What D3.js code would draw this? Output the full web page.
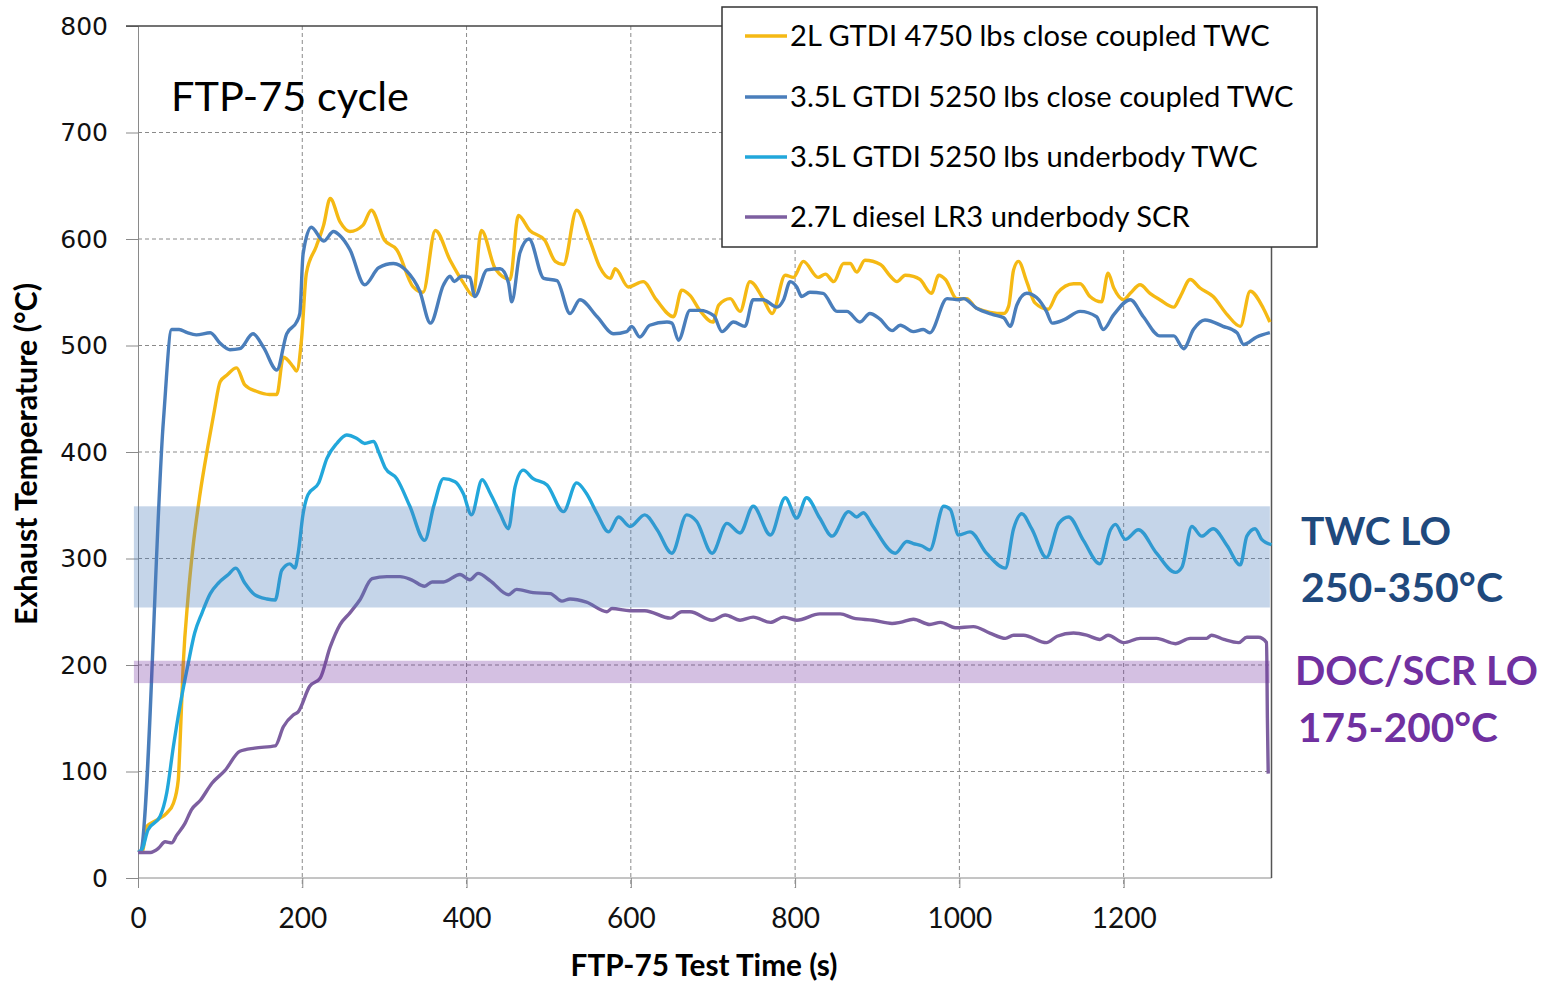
<!DOCTYPE html>
<html><head><meta charset="utf-8">
<script src="https://cdn.jsdelivr.net/npm/d3@7"></script>
<style>html,body{margin:0;padding:0;background:#fff;}svg{display:block;}</style>
</head><body>
<svg id="c" width="1555" height="984"></svg>
<script>
// ---------- DATA ----------
const seriesNames = [
  "2L GTDI 4750 lbs close coupled TWC",
  "3.5L GTDI 5250 lbs close coupled TWC",
  "3.5L GTDI 5250 lbs underbody TWC",
  "2.7L diesel LR3 underbody SCR"
];
const xTicks = [0,200,400,600,800,1000,1200];
const yTicks = [0,100,200,300,400,500,600,700,800];

const timeGold = [0,6,10,22,35,43,49,51,55,61,67,75,85,93,100,108,120,130,144,160,169,177,189,193,199,205,217,226,234,246,258,274,284,300,315,335,347,362,380,396,408,418,435,453,463,477,495,508,518,534,550,562,575,581,597,615,631,652,662,672,684,700,707,721,733,745,761,772,788,798,810,828,837,847,859,867,875,885,904,916,924,934,944,952,966,975,983,997,1009,1021,1054,1060,1066,1072,1082,1092,1108,1119,1139,1147,1159,1173,1181,1188,1200,1208,1220,1232,1244,1261,1269,1281,1293,1309,1326,1342,1354,1370,1378];
const tempGold = [24,26,48,54,61,70,92,123,200,264,311,358,405,439,466,472,479,463,457,454,454,489,480,476,505,568,593,613,638,616,607,613,627,599,590,555,550,608,580,559,547,608,572,562,622,608,599,579,576,627,599,574,563,572,555,560,543,527,552,547,533,522,538,544,532,560,544,530,566,564,579,564,567,560,577,577,569,580,576,565,560,566,565,562,549,566,562,544,544,535,530,537,571,579,560,540,534,549,558,558,546,541,568,554,543,549,557,549,543,536,546,562,554,546,529,518,551,535,522];

const timeCC = [0,3,31,41,50,60,71,88,100,112,124,140,153,169,181,193,197,201,211,226,238,246,258,276,293,311,327,343,356,372,380,385,394,404,410,425,441,451,455,465,476,494,510,526,538,559,579,595,601,611,623,644,650,658,672,684,701,711,725,739,749,761,778,786,794,802,808,818,834,851,863,879,891,903,918,928,944,956,964,985,999,1005,1021,1041,1054,1062,1070,1082,1094,1106,1113,1127,1147,1167,1175,1188,1208,1224,1244,1261,1273,1285,1299,1321,1338,1346,1362,1378];
const tempCC = [24,25,430,515,515,512,510,512,502,496,497,511,498,477,511,522,530,586,611,598,607,603,590,557,573,577,570,551,521,557,565,560,565,564,546,571,572,559,541,587,600,563,561,530,543,527,511,513,518,508,519,522,521,505,533,533,528,513,522,518,543,543,536,543,560,555,546,550,549,532,532,522,530,525,514,519,513,515,512,544,543,544,535,529,526,518,538,549,545,532,521,524,532,527,515,529,543,527,509,509,497,515,524,518,512,501,508,512];

const timeUB = [0,5,12,27,35,43,51,61,69,78,88,98,110,119,130,142,157,167,175,185,191,195,201,207,220,230,242,254,266,276,287,293,301,315,331,349,360,372,386,396,406,419,429,441,451,459,469,481,498,518,534,546,559,573,585,599,617,632,650,668,680,699,717,733,749,770,788,802,814,830,845,865,875,883,895,922,936,944,954,964,981,989,999,1013,1033,1056,1066,1076,1088,1106,1121,1133,1151,1171,1184,1190,1202,1218,1240,1263,1271,1283,1295,1309,1326,1342,1350,1360,1368,1380];
const tempUB = [24,27,45,58,80,123,161,201,230,249,267,277,285,291,277,266,262,261,289,295,291,305,342,360,371,394,408,416,413,408,410,400,385,375,349,317,349,375,372,361,341,374,361,342,328,367,383,375,369,344,371,361,342,325,339,330,341,327,305,341,335,305,333,324,349,322,357,338,357,338,321,344,339,343,330,305,316,314,312,308,349,346,322,325,305,291,328,342,328,301,333,339,317,295,327,332,318,327,305,287,292,330,321,328,312,294,321,328,318,313];

const timeDiesel = [0,15,25,33,41,47,57,65,76,90,106,124,142,167,177,189,195,209,222,234,246,258,270,285,303,319,333,349,358,372,392,404,414,429,451,461,481,502,516,526,546,571,577,599,617,648,662,672,699,715,733,749,770,786,802,830,855,871,895,918,928,944,964,977,995,1017,1037,1056,1066,1078,1106,1119,1139,1155,1171,1181,1200,1220,1240,1263,1281,1301,1307,1322,1340,1350,1364,1374,1375,1376];
const tempDiesel = [24,24,28,34,33,40,51,64,73,89,101,119,122,124,142,153,156,180,188,217,238,249,261,281,283,283,280,274,278,278,285,280,286,279,266,271,268,267,260,262,259,250,253,251,251,244,250,250,242,247,242,245,240,245,242,248,248,244,242,239,240,243,238,240,235,236,230,225,228,228,221,227,230,228,224,228,221,225,225,220,225,225,228,224,221,226,226,221,150,98];

const bandNames = ["TWC LO", "DOC/SCR LO"];
const bandLow = [254, 183];
const bandHigh = [349, 204];
const bandStart = -5, bandEnd = 1378;

// ---------- STYLE ----------
const colors = ["#F5B914", "#4A7EBB", "#22A7DB", "#7D5FA0"];
const bandColors = ["#4F81BD", "#7030A0"];
const bandOpacity = [0.33, 0.30];
const font = "Lato, 'Open Sans', sans-serif";

const svg = d3.select("#c");
const x = d3.scaleLinear().domain([0, 1380]).range([138, 1271.5]);
const y = d3.scaleLinear().domain([0, 800]).range([878, 26]);

function fitWidth(sel, w) {
  const fs = parseFloat(sel.attr("font-size"));
  const cur = sel.node().getComputedTextLength();
  sel.attr("font-size", fs * w / cur);
  return fs * w / cur;
}

// gridlines
svg.append("g").selectAll("line").data(yTicks.filter(d => d > 0 && d < 800)).join("line")
  .attr("x1", x(0)).attr("x2", x(1380)).attr("y1", d => y(d)).attr("y2", d => y(d))
  .attr("stroke", "#8a8a8a").attr("stroke-width", 1).attr("stroke-dasharray", "4,3");
svg.append("g").selectAll("line").data(xTicks.filter(d => d > 0)).join("line")
  .attr("x1", d => x(d)).attr("x2", d => x(d)).attr("y1", y(800)).attr("y2", y(0) + 10)
  .attr("stroke", "#8a8a8a").attr("stroke-width", 1).attr("stroke-dasharray", "4,3");

// axes
const yAxis = svg.append("g").attr("transform", `translate(${x(0)},0)`)
  .call(d3.axisLeft(y).tickValues(yTicks).tickSize(12).tickPadding(18).tickFormat(d3.format("d")));
yAxis.select(".domain").attr("stroke", "#8a8a8a");
yAxis.selectAll(".tick line").attr("stroke", "#8a8a8a");
yAxis.selectAll(".tick text").attr("font-family", "'DejaVu Sans', sans-serif").attr("font-size", 25).attr("fill", "#111");

const xAxis = svg.append("g").attr("transform", `translate(0,${y(0)})`)
  .call(d3.axisBottom(x).tickValues(xTicks).tickSize(10).tickPadding(20).tickFormat(d3.format("d")));
xAxis.select(".domain").attr("stroke", "#8a8a8a").attr("d", `M${x(0)},0H${x(1380)}`);
xAxis.selectAll(".tick line").attr("stroke", "#8a8a8a");
xAxis.selectAll(".tick text").attr("font-family", font).attr("font-size", 28).attr("fill", "#111");

// top border and right border
svg.append("line").attr("x1", x(0) - 12).attr("x2", x(1380)).attr("y1", y(800)).attr("y2", y(800))
  .attr("stroke", "#444").attr("stroke-width", 1.5);
svg.append("line").attr("x1", x(1380)).attr("x2", x(1380)).attr("y1", y(800)).attr("y2", y(0))
  .attr("stroke", "#555").attr("stroke-width", 1.5);

// series
const seriesTimes = [timeGold, timeCC, timeUB, timeDiesel];
const seriesTemps = [tempGold, tempCC, tempUB, tempDiesel];
const line = d3.line().x(d => x(d[0])).y(d => y(d[1])).curve(d3.curveMonotoneX);
seriesTimes.forEach((ts, i) => {
  const pts = ts.map((t, j) => [t, seriesTemps[i][j]]);
  svg.append("path").datum(pts).attr("d", line).attr("fill", "none")
    .attr("stroke", colors[i]).attr("stroke-width", 3.4).attr("stroke-linejoin", "round");
});

// bands
svg.append("g").selectAll("rect").data(bandLow).join("rect")
  .attr("x", x(bandStart)).attr("width", x(bandEnd) - x(bandStart))
  .attr("y", (d, i) => y(bandHigh[i])).attr("height", (d, i) => y(d) - y(bandHigh[i]))
  .attr("fill", (d, i) => bandColors[i]).attr("opacity", (d, i) => bandOpacity[i]);

// title
const title = svg.append("text").attr("x", 171).attr("y", 111).attr("font-family", font)
  .attr("font-size", 40).attr("fill", "#000").text("FTP-75 cycle");
fitWidth(title, 238);

// axis titles
const yt = svg.append("text").attr("transform", "translate(37,454) rotate(-90)").attr("text-anchor", "middle")
  .attr("font-family", font).attr("font-weight", "bold").attr("font-size", 26).attr("fill", "#000")
  .text("Exhaust Temperature (°C)");
fitWidth(yt, 342);
const xt = svg.append("text").attr("x", 704).attr("y", 976).attr("text-anchor", "middle")
  .attr("font-family", font).attr("font-weight", "bold").attr("font-size", 26).attr("fill", "#000")
  .text("FTP-75 Test Time (s)");
fitWidth(xt, 267);

// legend
const lg = svg.append("g");
lg.append("rect").attr("x", 722).attr("y", 7).attr("width", 595).attr("height", 240)
  .attr("fill", "#fff").attr("stroke", "#333").attr("stroke-width", 1.5);
const legendY = [36, 97, 157, 217];
let legendFs = 30;
seriesNames.forEach((n, i) => {
  lg.append("line").attr("x1", 745).attr("x2", 787).attr("y1", legendY[i]).attr("y2", legendY[i])
    .attr("stroke", colors[i]).attr("stroke-width", 3.4);
  const t = lg.append("text").attr("x", 790).attr("y", legendY[i]).attr("dy", "0.36em")
    .attr("font-family", font).attr("font-size", legendFs).attr("fill", "#000").text(n);
  if (i === 0) legendFs = fitWidth(t, 480); else t.attr("font-size", legendFs);
});

// band labels
const labelLines = [["TWC LO", "250-350°C"], ["DOC/SCR LO", "175-200°C"]];
const labelColors = ["#1F497D", "#7030A0"];
const labelX = [1301, 1295];
const labelBase = [[545, 602], [685, 742]];
const labelW = [[150, 202], [243, 200]];
labelLines.forEach((ls, i) => {
  ls.forEach((s, j) => {
    const t = svg.append("text").attr("x", labelX[i] + (i === 1 && j === 1 ? 3 : 0)).attr("y", labelBase[i][j])
      .attr("font-family", font).attr("font-weight", "bold").attr("font-size", 42)
      .attr("fill", labelColors[i]).text(s);
    fitWidth(t, labelW[i][j]);
  });
});
</script>
</body></html>
